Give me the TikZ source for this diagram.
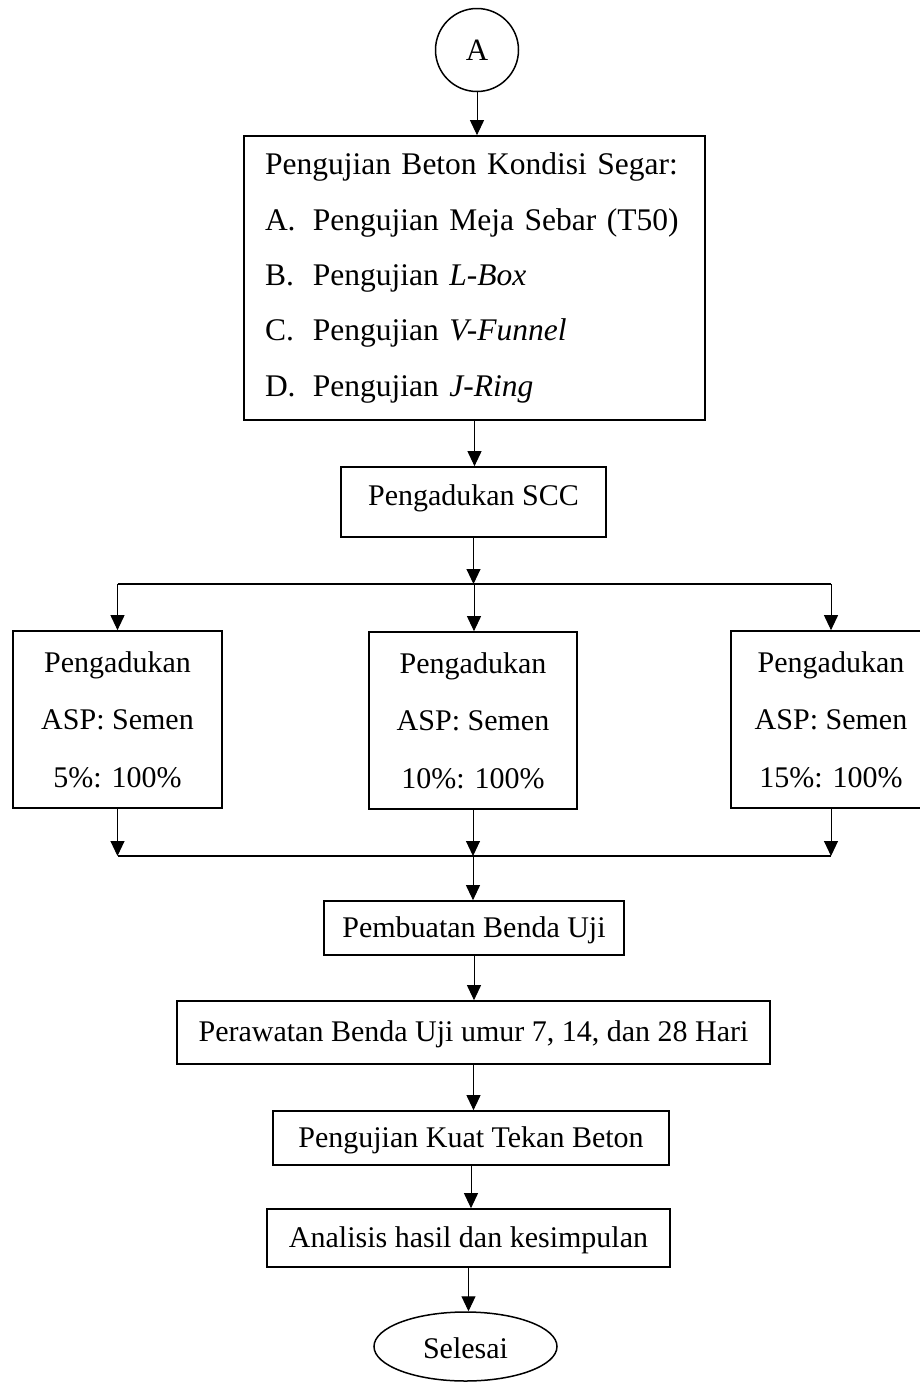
\documentclass[tikz,border=0pt]{standalone}
\usepackage{fontspec}
\setmainfont{Liberation Serif}
\usetikzlibrary{arrows.meta}
\usetikzlibrary{shapes.geometric}
\usetikzlibrary{calc}

\begin{document}
\begin{tikzpicture}[x=1pt,y=-1pt,
  box/.style={draw, line width=1.7pt, inner sep=0pt, font=\fontsize{30}{36}\selectfont, text height=23pt, text depth=5pt},
  listbox/.style={draw, line width=1.7pt, inner xsep=21pt, inner ysep=0pt, text width=419pt, align=left, minimum height=284pt, font=\fontsize{31.5}{55.3}\selectfont},
  mixbox/.style={draw, line width=1.7pt, inner sep=0pt, align=center, minimum height=177pt, font=\fontsize{30}{57.5}\selectfont},
  arr/.style={line width=1pt, -{Triangle[length=15pt,width=14pt]}},
  jline/.style={line width=1.2pt}]
\useasboundingbox (0,0) rectangle (920,1382);

\node[draw, circle, line width=1.5pt, minimum size=83pt, inner sep=0pt, font=\fontsize{31}{36}\selectfont] (start) at (477,50) {A};
\node[listbox] (uji) at (474.5,278) {Pengujian Beton Kondisi Segar:\\
  \makebox[48pt][l]{A.}Pengujian Meja Sebar (T50)\\
  \makebox[48pt][l]{B.}Pengujian \textit{L-Box}\\
  \makebox[48pt][l]{C.}Pengujian \textit{V-Funnel}\\
  \makebox[48pt][l]{D.}Pengujian \textit{J-Ring}};
\node[box, minimum width=265pt, minimum height=70pt, text height=17pt, text depth=11pt] (scc) at (473.5,502) {Pengadukan SCC};

\node[mixbox, minimum width=209pt] (pA) at (117.5,719.5) {Pengadukan\\ ASP: Semen\\ 5\%: 100\%};
\node[mixbox, minimum width=208pt] (pB) at (473,720.5) {Pengadukan\\ ASP: Semen\\ 10\%: 100\%};
\node[mixbox, minimum width=200pt] (pC) at (831,719.5) {Pengadukan\\ ASP: Semen\\ 15\%: 100\%};

\node[box, minimum width=300pt, minimum height=54pt] (benda) at (474,928) {Pembuatan Benda Uji};
\node[box, minimum width=593pt, minimum height=63pt] (rawat) at (473.5,1032.5) {Perawatan Benda Uji umur 7, 14, dan 28 Hari};
\node[box, minimum width=396pt, minimum height=54pt] (kuat) at (471,1138) {Pengujian Kuat Tekan Beton};
\node[box, minimum width=403pt, minimum height=58pt] (analisis) at (468.5,1238) {Analisis hasil dan kesimpulan};
\node[draw, ellipse, line width=1.5pt, minimum width=183pt, minimum height=69pt, inner sep=0pt, font=\fontsize{30}{36}\selectfont, text height=23pt, text depth=0pt] (selesai) at (465.5,1346.5) {Selesai};

\coordinate (jtop) at (474,584);
\coordinate (jbot) at (473,856);

\draw[arr] (start.south) -- (start.south |- uji.north);
\draw[arr] (uji.south) -- (uji.south |- scc.north);
\draw[arr] (scc.south) -- (scc.south |- jtop);
\draw[jline] (pA.north |- jtop) -- (pC.north |- jtop);
\draw[arr] (pA.north |- jtop) -- (pA.north);
\draw[arr] (jtop) -- (jtop |- pB.north);
\draw[arr] (pC.north |- jtop) -- (pC.north);
\draw[arr] (pA.south) -- (pA.south |- jbot);
\draw[arr] (pB.south) -- (pB.south |- jbot);
\draw[arr] (pC.south) -- (pC.south |- jbot);
\draw[jline] (pA.south |- jbot) -- (pC.south |- jbot);
\draw[arr] (jbot) -- (jbot |- benda.north);
\draw[arr] (benda.south) -- (benda.south |- rawat.north);
\draw[arr] (rawat.south) -- (rawat.south |- kuat.north);
\draw[arr] (kuat.south) -- (kuat.south |- analisis.north);
\draw[arr] (analisis.south) -- (analisis.south |- selesai.north);
\end{tikzpicture}
\end{document}
